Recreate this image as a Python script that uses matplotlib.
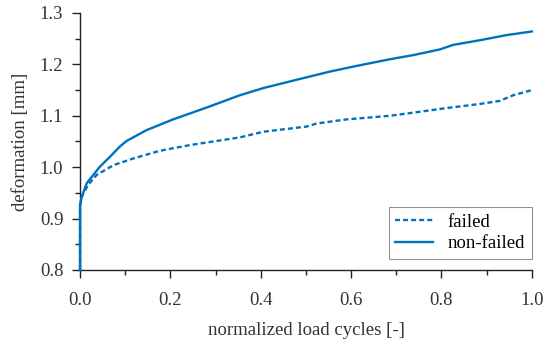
import matplotlib
matplotlib.use("Agg")
import matplotlib.pyplot as plt
from matplotlib.ticker import MultipleLocator

plt.rcParams['font.family'] = ['Liberation Serif', 'DejaVu Serif']
plt.rcParams['lines.scale_dashes'] = False

x_failed = [0.0, 0.0, 0.004, 0.018, 0.037, 0.074, 0.118, 0.177, 0.243, 0.354,
            0.406, 0.501, 0.524, 0.590, 0.686, 0.737, 0.811, 0.885, 0.929,
            0.959, 1.0]
y_failed = [0.8, 0.925, 0.943, 0.966, 0.985, 1.004, 1.017, 1.032, 1.043, 1.058,
            1.069, 1.079, 1.085, 1.093, 1.100, 1.106, 1.115, 1.123, 1.129,
            1.140, 1.150]

x_nonfailed = [0.0, 0.0, 0.004, 0.015, 0.044, 0.066, 0.088, 0.103, 0.147, 0.206,
               0.280, 0.354, 0.406, 0.479, 0.553, 0.612, 0.686, 0.737, 0.796,
               0.826, 0.885, 0.944, 1.0]
y_nonfailed = [0.8, 0.925, 0.943, 0.969, 1.001, 1.020, 1.040, 1.051, 1.072, 1.093,
               1.116, 1.140, 1.154, 1.170, 1.186, 1.197, 1.210, 1.218, 1.229,
               1.238, 1.247, 1.257, 1.264]

blue = '#0072BD'

fig = plt.figure(figsize=(5.5, 3.51), dpi=100)
ax = fig.add_axes([0.1455, 0.2308, 0.8215, 0.7322])

ax.plot(x_failed, y_failed, color=blue, lw=1.7, dashes=(3.6, 2.2), label='failed',
        clip_on=False, zorder=3)
ax.plot(x_nonfailed, y_nonfailed, color=blue, lw=1.7, label='non-failed',
        clip_on=False, zorder=3)

ax.set_xlim(0, 1)
ax.set_ylim(0.8, 1.3)
ax.xaxis.set_major_locator(MultipleLocator(0.2))
ax.xaxis.set_minor_locator(MultipleLocator(0.1))
ax.yaxis.set_major_locator(MultipleLocator(0.1))
ax.yaxis.set_minor_locator(MultipleLocator(0.05))
ax.xaxis.set_major_formatter(lambda v, p: f'{v:.1f}')
ax.yaxis.set_major_formatter(lambda v, p: f'{v:.1f}')

for s in ['top', 'right']:
    ax.spines[s].set_visible(False)
for s in ['left', 'bottom']:
    ax.spines[s].set_linewidth(1.0)
    ax.spines[s].set_color('#222222')
    ax.spines[s].set_zorder(2)

ax.tick_params(which='major', direction='out', length=6, width=1.0,
               labelsize=13.5, colors='#222222', labelcolor='#333333')
ax.tick_params(which='minor', direction='out', length=3.5, width=1.0, colors='#222222')
ax.tick_params(axis='y', pad=6)
ax.tick_params(axis='x', pad=10)

ax.set_xlabel('normalized load cycles [-]', fontsize=13.5, color='#333333', labelpad=9)
ax.set_ylabel('deformation [mm]', fontsize=13.5, color='#333333', labelpad=8)

leg = ax.legend(loc='lower right', fontsize=13.5, frameon=True, fancybox=False,
                edgecolor='#777777', handlelength=2.0, borderpad=0.35,
                labelspacing=0.25, borderaxespad=0, handletextpad=0.8,
                bbox_to_anchor=(1.0, 0.043))
leg.get_frame().set_linewidth(0.8)

fig.savefig('out.png', dpi=100)
